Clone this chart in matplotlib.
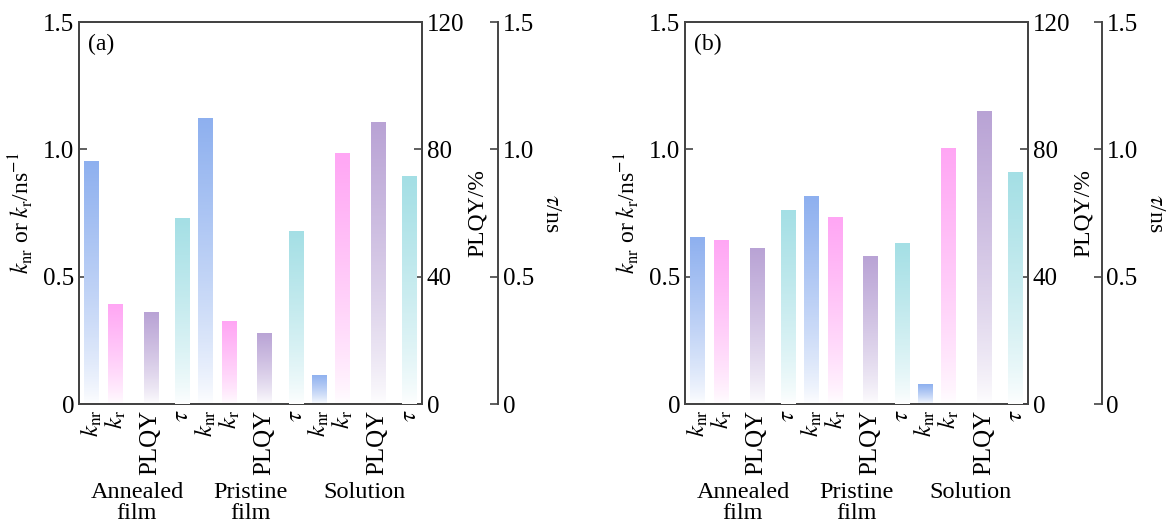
import numpy as np
import matplotlib
matplotlib.use("Agg")
import matplotlib.pyplot as plt
from matplotlib.colors import LinearSegmentedColormap
from matplotlib.transforms import blended_transform_factory

plt.rcParams['font.family'] = ['Liberation Serif', 'DejaVu Serif']
plt.rcParams['mathtext.fontset'] = 'stix'
plt.rcParams['font.size'] = 17

# ---- data ----
groups = ["Annealed\nfilm", "Pristine\nfilm", "Solution"]
quantities = ["knr", "kr", "PLQY", "tau"]
tick_labels = [r"$k_{\mathrm{nr}}$", r"$k_{\mathrm{r}}$", "PLQY", r"$\tau$"]

# panel (a)
a_knr = [0.955, 1.125, 0.115]
a_kr = [0.393, 0.324, 0.987]
a_plqy = [28.8, 22.4, 88.5]   # %
a_tau = [0.731, 0.681, 0.894]  # ns

# panel (b)
b_knr = [0.657, 0.815, 0.077]
b_kr = [0.645, 0.733, 1.004]
b_plqy = [49.0, 46.6, 92.0]
b_tau = [0.760, 0.633, 0.910]

colors = {"knr": "#8eb0ef", "kr": "#ffa6f4", "PLQY": "#b9a3d5", "tau": "#a4dfe5"}
offsets = [0.0, 1.05, 2.6, 4.0]
period = 5.0
width = 0.62


def grad_bar(ax, x, h, color):
    bars = ax.bar([x], [h], width=width, color='none', edgecolor='none')
    patch = bars[0]
    cmap = LinearSegmentedColormap.from_list('g', ['#ffffff', color])
    t = np.linspace(0, 1, 256).reshape(-1, 1) ** 0.75
    im = ax.imshow(t, cmap=cmap, vmin=0, vmax=1, origin='lower', aspect='auto',
                   extent=[x - width / 2, x + width / 2, 0, h], interpolation='bilinear',
                   zorder=2)
    im.set_clip_path(patch)


def panel(fig, rect, knr, kr, plqy, tau, tag, outward):
    ax = fig.add_axes(rect)
    ax2 = ax.twinx()
    ax3 = ax.twinx()
    ax3.spines['right'].set_position(('outward', outward))
    for a in (ax, ax2, ax3):
        for s in a.spines.values():
            s.set_color('#444444')
            s.set_linewidth(1.4)
        a.tick_params(direction='in', length=6, width=1.2, color='#444444', labelsize=18)
    ax3.spines['top'].set_visible(False)
    ax3.spines['bottom'].set_visible(False)
    ax3.spines['left'].set_visible(False)

    xs = []
    for g in range(3):
        base = g * period
        grad_bar(ax, base + offsets[0], knr[g], colors['knr'])
        grad_bar(ax, base + offsets[1], kr[g], colors['kr'])
        grad_bar(ax2, base + offsets[2], plqy[g], colors['PLQY'])
        grad_bar(ax3, base + offsets[3], tau[g], colors['tau'])
        xs += [base + o for o in offsets]

    xlim = (-0.55, 2 * period + offsets[3] + 0.55)
    for a in (ax, ax2, ax3):
        a.set_xlim(*xlim)
    ax.set_ylim(0, 1.5)
    ax2.set_ylim(0, 120)
    ax3.set_ylim(0, 1.5)
    ax.set_yticks([0, 0.5, 1.0, 1.5])
    ax.set_yticklabels(["0", "0.5", "1.0", "1.5"])
    ax2.set_yticks([0, 40, 80, 120])
    ax2.set_yticklabels(["0", "40", "80", "120"])
    ax3.set_yticks([0, 0.5, 1.0, 1.5])
    ax3.set_yticklabels(["0", "0.5", "1.0", "1.5"])
    ax.tick_params(axis='x', length=0, pad=4)
    ax.set_xticks(xs)
    ax.set_xticklabels(tick_labels * 3, rotation=90, va='top', ha='center')

    ax.set_ylabel(r"$k_{\mathrm{nr}}$ or $k_{\mathrm{r}}$/ns$^{-1}$", fontsize=17, labelpad=6)
    ax2.set_ylabel("PLQY/%", fontsize=17, labelpad=2)
    ax3.set_ylabel(r"$\tau$/ns", fontsize=17, rotation=-90, labelpad=20)

    ax.text(0.025, 0.97, tag, transform=ax.transAxes, ha='left', va='top', fontsize=17)

    tr = blended_transform_factory(ax.transData, ax.transAxes)
    for g, name in enumerate(groups):
        cx = g * period + (offsets[0] + offsets[3]) / 2
        ax.text(cx, -0.205, name, transform=tr, ha='center', va='top',
                fontsize=17.5, linespacing=0.95)
    return ax


fig = plt.figure(figsize=(11.69, 5.24), dpi=100)
panel(fig, [0.0676, 0.229, 0.2934, 0.729], a_knr, a_kr, a_plqy, a_tau, "(a)", 55)
panel(fig, [0.586, 0.229, 0.2934, 0.729], b_knr, b_kr, b_plqy, b_tau, "(b)", 53)
fig.savefig("out.png", dpi=100)
